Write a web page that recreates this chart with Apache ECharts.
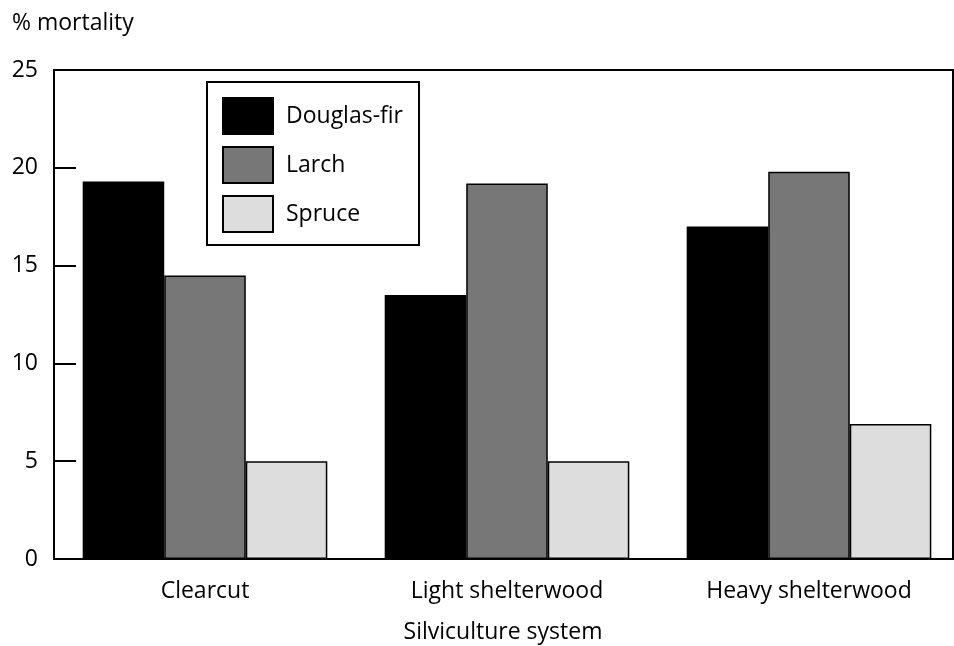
<!DOCTYPE html>
<html>
<head>
<meta charset="utf-8">
<script src="https://cdn.jsdelivr.net/npm/echarts@6/dist/echarts.min.js"></script>
<style>html,body{margin:0;padding:0;background:#fff;}#c{width:954px;height:646px;}</style>
</head>
<body>
<div id="c"></div>
<script>
const categories = ["Clearcut", "Light shelterwood", "Heavy shelterwood"];
const douglasFir = [19.3, 13.5, 17.0];
const larch = [14.5, 19.2, 19.8];
const spruce = [5.0, 5.0, 6.9];
const seriesNames = ["Douglas-fir", "Larch", "Spruce"];
const yTicks = [0, 5, 10, 15, 20, 25];

const FONT = "Open Sans";
const FS = 23;
const chart = echarts.init(document.getElementById('c'), null, {renderer: 'canvas'});
const barStyle = (c) => ({color: c, borderColor: '#000', borderWidth: 1.5});
chart.setOption({
  animation: false,
  backgroundColor: '#fff',
  textStyle: {fontFamily: FONT, color: '#000'},
  grid: {left: 54, width: 906, top: 70, bottom: 87, show: false, containLabel: false, outerBoundsMode: 'none'},
  legend: {
    left: 207, top: 82, orient: 'vertical',
    itemWidth: 50, itemHeight: 36, itemGap: 11,
    padding: [15, 16, 12, 15],
    borderColor: '#000', borderWidth: 2, backgroundColor: '#fff',
    textStyle: {fontFamily: FONT, fontSize: FS, color: '#000', padding: [0, 0, 0, 8]},
    icon: 'rect',
    data: seriesNames
  },
  graphic: [
    {
      type: 'rect', z: 0, silent: true,
      shape: {x: 54, y: 70, width: 899, height: 489},
      style: {fill: 'none', stroke: '#000', lineWidth: 2}
    },
    {
      type: 'text', left: 12, top: 12,
      style: {text: '% mortality', fontFamily: FONT, fontSize: FS, fill: '#000'}
    }
  ],
  xAxis: {
    type: 'category', data: categories,
    name: 'Silviculture system', nameLocation: 'middle', nameGap: 62,
    nameTextStyle: {fontFamily: FONT, fontSize: FS, color: '#000', padding: [0, 0, 0, -8]},
    axisLine: {show: true, lineStyle: {color: '#000', width: 2}},
    axisTick: {show: false},
    axisLabel: {fontFamily: FONT, fontSize: FS, color: '#000', margin: 21}
  },
  yAxis: {
    type: 'value', min: 0, max: 25, interval: 5,
    axisLine: {show: true, lineStyle: {color: '#000', width: 2}},
    axisTick: {show: true, inside: true, length: 22, lineStyle: {color: '#000', width: 2}},
    splitLine: {show: false},
    axisLabel: {fontFamily: FONT, fontSize: FS, color: '#000', margin: 16,
      formatter: (v) => yTicks.includes(v) ? String(v) : ''}
  },
  series: [
    {name: seriesNames[0], type: 'bar', data: douglasFir, itemStyle: barStyle('#000'), barGap: '0%', barCategoryGap: '19%'},
    {name: seriesNames[1], type: 'bar', data: larch, itemStyle: barStyle('#777777'), barGap: '0%', barCategoryGap: '19%'},
    {name: seriesNames[2], type: 'bar', data: spruce, itemStyle: barStyle('#dddddd'), barGap: '0%', barCategoryGap: '19%'}
  ]
});
</script>
</body>
</html>
